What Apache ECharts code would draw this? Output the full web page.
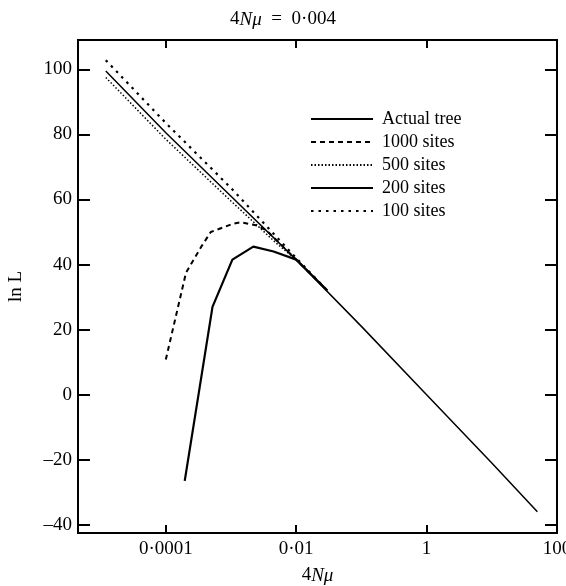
<!DOCTYPE html>
<html>
<head>
<meta charset="utf-8">
<script src="https://cdn.jsdelivr.net/npm/echarts@6/dist/echarts.min.js"></script>
<style>
html, body { margin: 0; padding: 0; background: #fff; }
#main { width: 566px; height: 586px; }
</style>
</head>
<body>
<div id="main"></div>
<script>
// tick positions and labels
var xTickVals = [1e-4, 1e-2, 1, 100];
var xTickLabels = ['0·0001', '0·01', '1', '100'];
var yTickVals = [-40, -20, 0, 20, 40, 60, 80, 100];

// series, [4N mu, ln L]
var actualTree = [[1.2e-5, 99.5], [1e-4, 80.5], [1e-3, 61], [1e-2, 41.5], [1e-1, 21], [1, 0], [10, -21], [50, -36]];
var sites1000 = [[1e-4, 10.8], [2.04e-4, 37.5], [3.5e-4, 45.5], [4.9e-4, 50], [1.1e-3, 52.6], [1.4e-3, 53], [2.5e-3, 52], [3.5e-3, 50.5], [1e-2, 41.5], [3e-2, 32]];
var sites500 = [[1.2e-5, 97.5], [1e-4, 78.5], [1e-3, 59.5], [5e-3, 46.5], [1e-2, 41.5], [3e-2, 32]];
var sites200 = [[1.95e-4, -26.5], [3.2e-4, 0.5], [5.2e-4, 27], [1.05e-3, 41.5], [2.2e-3, 45.5], [4.5e-3, 44], [1e-2, 41.5], [3e-2, 32]];
var sites100 = [[1.2e-5, 102.8], [1e-4, 83.5], [1e-3, 63.5], [5e-3, 48.5], [1e-2, 42], [3e-2, 32]];

var serif = 'Liberation Serif';
var chart = echarts.init(document.getElementById('main'));

function xLabel(v) {
	var i = xTickVals.findIndex(function(t) { return Math.abs(Math.log10(t) - Math.log10(v)) < 1e-6; });
	return i >= 0 ? xTickLabels[i] : '';
}

function mkSeries(name, data, type, width) {
	return {
		name: name,
		type: 'line',
		data: data,
		symbol: 'none',
		silent: true,
		itemStyle: { color: '#000' },
		lineStyle: { color: '#000', width: width, type: type }
	};
}

var richTxt = {
	n: { fontFamily: serif, fontSize: 19, fontWeight: 'normal', color: '#000' },
	i: { fontFamily: serif, fontSize: 19, fontWeight: 'normal', fontStyle: 'italic', color: '#000' }
};

var option = {
	animation: false,
	backgroundColor: '#fff',
	title: {
		text: '{n|4}{i|Nμ}{n|  =  0·004}',
		left: 'center',
		top: 5,
		textStyle: { fontWeight: 'normal', rich: richTxt }
	},
	legend: {
		orient: 'vertical',
		left: 305,
		top: 105,
		itemWidth: 62,
		itemHeight: 10,
		itemGap: 5,
		itemStyle: { opacity: 0 },
		textStyle: { fontFamily: serif, fontSize: 18, color: '#000', padding: [0, 0, 0, 4] },
		data: ['Actual tree', '1000 sites', '500 sites', '200 sites', '100 sites']
	},
	grid: {
		left: 78,
		right: 9,
		top: 40,
		bottom: 53,
		outerBoundsMode: 'none',
		containLabel: false,
		show: true,
		borderColor: '#000',
		borderWidth: 2,
		backgroundColor: 'transparent'
	},
	xAxis: [{
		type: 'log',
		logBase: 10,
		min: 4.5e-6,
		max: 100,
		name: '{n|4}{i|Nμ}',
		nameLocation: 'middle',
		nameGap: 33,
		nameTextStyle: { rich: richTxt },
		axisLine: { onZero: false, lineStyle: { color: '#000', width: 2 } },
		axisTick: { inside: true, length: 8, customValues: xTickVals, lineStyle: { color: '#000', width: 2 } },
		axisLabel: { customValues: xTickVals, formatter: xLabel, fontFamily: serif, fontSize: 19, color: '#000', margin: 7 },
		minorTick: { show: false },
		splitLine: { show: false }
	}, {
		type: 'log',
		logBase: 10,
		min: 4.5e-6,
		max: 100,
		position: 'top',
		axisLine: { onZero: false, lineStyle: { color: '#000', width: 2 } },
		axisTick: { inside: true, length: 8, customValues: xTickVals, lineStyle: { color: '#000', width: 2 } },
		axisLabel: { show: false },
		splitLine: { show: false }
	}],
	yAxis: [{
		type: 'value',
		min: -42.5,
		max: 109,
		name: 'ln L',
		nameLocation: 'middle',
		nameGap: 52,
		nameTextStyle: { fontFamily: serif, fontSize: 19, color: '#000' },
		axisLine: { show: true, onZero: false, lineStyle: { color: '#000', width: 2 } },
		axisTick: { inside: true, length: 12, customValues: yTickVals, lineStyle: { color: '#000', width: 2 } },
		axisLabel: {
			customValues: yTickVals,
			formatter: function(v) { return v < 0 ? '–' + (-v) : String(v); },
			fontFamily: serif, fontSize: 19, color: '#000', margin: 6
		},
		splitLine: { show: false }
	}, {
		type: 'value',
		min: -42.5,
		max: 109,
		position: 'right',
		axisLine: { show: true, onZero: false, lineStyle: { color: '#000', width: 2 } },
		axisTick: { inside: true, length: 12, customValues: yTickVals, lineStyle: { color: '#000', width: 2 } },
		axisLabel: { show: false },
		splitLine: { show: false }
	}],
	series: [
		mkSeries('Actual tree', actualTree, 'solid', 1.5),
		mkSeries('1000 sites', sites1000, [5, 4], 2),
		mkSeries('500 sites', sites500, [1.5, 2], 1.5),
		mkSeries('200 sites', sites200, 'solid', 2.2),
		mkSeries('100 sites', sites100, [2.5, 5], 2.2)
	]
};
chart.setOption(option);
</script>
</body>
</html>
